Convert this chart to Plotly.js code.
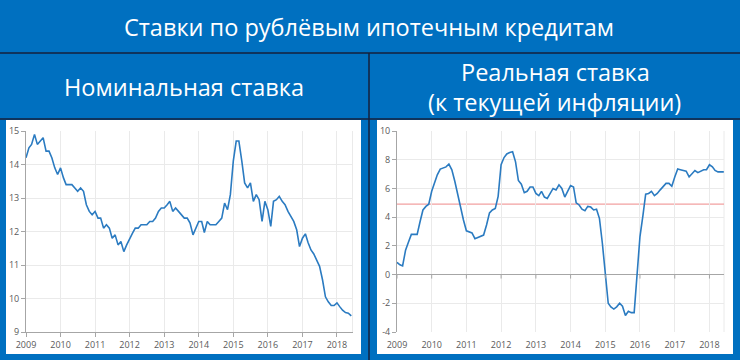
<!DOCTYPE html>
<html>
<head>
<meta charset="utf-8">
<script src="https://cdn.plot.ly/plotly-3.0.1.min.js"></script>
<style>
  html, body { margin: 0; padding: 0; background: #0070C0; }
  #chart { width: 740px; height: 360px; }
</style>
</head>
<body>
<div id="chart"></div>
<script>
// ---- data (monthly, Jan 2009 .. Jun 2018) ----
const years = [2009, 2010, 2011, 2012, 2013, 2014, 2015, 2016, 2017, 2018];
const yearLabels = ["2009", "2010", "2011", "2012", "2013", "2014", "2015", "2016", "2017", "2018"];

const nominalRate = [
  14.2, 14.5, 14.6, 14.9, 14.6, 14.7, 14.8, 14.4, 14.4, 14.2, 13.9, 13.7,
  13.9, 13.6, 13.4, 13.4, 13.4, 13.3, 13.2, 13.3, 13.2, 12.8, 12.6, 12.5,
  12.6, 12.4, 12.4, 12.1, 12.2, 12.1, 11.8, 11.9, 11.6, 11.7, 11.4, 11.6,
  11.8, 11.95, 12.1, 12.1, 12.2, 12.2, 12.2, 12.3, 12.3, 12.4, 12.6, 12.7,
  12.7, 12.8, 12.9, 12.6, 12.7, 12.6, 12.5, 12.4, 12.4, 12.25, 11.9, 12.1,
  12.3, 12.3, 11.97, 12.3, 12.2, 12.2, 12.2, 12.3, 12.4, 12.85, 12.65, 13.1,
  14.1, 14.7, 14.7, 14.1, 13.45, 13.3, 13.45, 12.9, 13.1, 12.95, 12.3, 12.9,
  12.65, 12.15, 12.9, 12.95, 13.05, 12.9, 12.8, 12.6, 12.45, 12.3, 12.05, 11.55,
  11.8, 11.93, 11.67, 11.45, 11.33, 11.15, 10.96, 10.56, 10.05, 9.9, 9.79, 9.79,
  9.87, 9.75, 9.65, 9.58, 9.56, 9.48
];

const realRate = [
  0.85, 0.68, 0.6, 1.7, 2.25, 2.8, 2.8, 2.8, 3.7, 4.5, 4.75, 4.9,
  5.8, 6.5, 6.95, 7.35, 7.4, 7.5, 7.7, 7.3, 6.5, 5.55, 4.75, 3.8,
  3.05, 2.95, 2.9, 2.5, 2.6, 2.7, 2.75, 3.45, 4.3, 4.5, 4.6, 5.45,
  7.65, 8.15, 8.4, 8.5, 8.55, 7.85, 6.55, 6.3, 5.7, 5.8, 6.1, 6.1,
  5.65, 5.5, 5.8, 5.4, 5.3, 5.65, 6.0, 5.9, 6.25, 6.0, 5.4, 5.8,
  6.2, 6.1, 5.0, 4.85, 4.55, 4.45, 4.75, 4.7, 4.5, 4.55, 3.9, 2.2,
  0.0, -2.0, -2.25, -2.4, -2.25, -2.0, -2.2, -2.85, -2.55, -2.65, -2.65, 0.1,
  2.65, 4.1, 5.6, 5.65, 5.8, 5.5, 5.65, 5.9, 6.15, 6.35, 6.35, 6.15,
  6.8, 7.35, 7.3, 7.25, 7.2, 6.8, 7.05, 7.25, 7.1, 7.2, 7.3, 7.3,
  7.65, 7.5, 7.25, 7.15, 7.15, 7.15
];

const realThreshold = 4.9;

const nominalTicks = [9, 10, 11, 12, 13, 14, 15];
const realTicks = [-4, -2, 0, 2, 4, 6, 8, 10];
const realTickLabels = ["-4", "-2", "0", "2", "4", "6", "8", "10"];

const mainTitle = "Ставки по рублёвым ипотечным кредитам";
const leftTitle = "Номинальная ставка";
const rightTitle1 = "Реальная ставка";
const rightTitle2 = "(к текущей инфляции)";

// month dates
const months = nominalRate.map((_, i) => {
  const y = 2009 + Math.floor(i / 12);
  const m = (i % 12) + 1;
  return y + "-" + (m < 10 ? "0" + m : m) + "-01";
});
const yearDates = years.map(y => y + "-01-01");

// ---- layout helpers (pixel -> paper) ----
const W = 740, H = 360;
const X = px => px / W;
const Y = py => 1 - py / H;

const lineColor = "#2B7BC1";
const gridColor = "#EAEAEA";
const axisColor = "#A6A6A6";
const tickFont = { family: "Open Sans, sans-serif", size: 9, color: "#595959" };
const headFont = { family: "Open Sans, sans-serif", size: 23.5, color: "#FFFFFF" };

const traces = [
  { x: months, y: nominalRate, xaxis: "x", yaxis: "y", type: "scatter", mode: "lines",
    line: { color: lineColor, width: 1.6 }, hoverinfo: "skip", showlegend: false },
  { x: months, y: realRate, xaxis: "x2", yaxis: "y2", type: "scatter", mode: "lines",
    line: { color: lineColor, width: 1.6 }, hoverinfo: "skip", showlegend: false }
];

const darkLine = { color: "#14213D", width: 1.5 };

const shapes = [
  { type: "rect", xref: "paper", yref: "paper", x0: X(6), x1: X(361), y0: Y(354), y1: Y(120),
    fillcolor: "#FFFFFF", line: { width: 0 }, layer: "below" },
  { type: "rect", xref: "paper", yref: "paper", x0: X(377), x1: X(733), y0: Y(354), y1: Y(120),
    fillcolor: "#FFFFFF", line: { width: 0 }, layer: "below" },
  { type: "line", xref: "paper", yref: "paper", x0: 0, x1: 1, y0: Y(53), y1: Y(53), line: darkLine },
  { type: "line", xref: "paper", yref: "paper", x0: 0, x1: 1, y0: Y(119), y1: Y(119), line: darkLine },
  { type: "line", xref: "paper", yref: "paper", x0: X(369), x1: X(369), y0: 0, y1: Y(53), line: darkLine },
  // right plot-area borders
  { type: "line", xref: "x domain", yref: "y domain", x0: 1, x1: 1, y0: 0, y1: 1,
    line: { color: gridColor, width: 1 }, layer: "below" },
  { type: "line", xref: "x2 domain", yref: "y2 domain", x0: 1, x1: 1, y0: 0, y1: 1,
    line: { color: gridColor, width: 1 }, layer: "below" },
  // threshold line
  { type: "line", xref: "x2 domain", yref: "y2", x0: 0, x1: 1, y0: realThreshold, y1: realThreshold,
    line: { color: "#F2A0A0", width: 1.2 }, layer: "below" }
];
// tick marks on the zero line of the real-rate chart
yearDates.forEach(d => {
  shapes.push({ type: "line", xref: "x2", yref: "y2", ysizemode: "pixel", yanchor: 0,
    x0: d, x1: d, y0: 0, y1: -4, line: { color: axisColor, width: 1 } });
});

const annotations = [
  { text: mainTitle, xref: "paper", yref: "paper", x: X(369), y: Y(27), showarrow: false,
    xanchor: "center", yanchor: "middle", font: headFont },
  { text: leftTitle, xref: "paper", yref: "paper", x: X(184), y: Y(87), showarrow: false,
    xanchor: "center", yanchor: "middle", font: headFont },
  { text: rightTitle1, xref: "paper", yref: "paper", x: X(555), y: Y(72), showarrow: false,
    xanchor: "center", yanchor: "middle", font: headFont },
  { text: rightTitle2, xref: "paper", yref: "paper", x: X(554), y: Y(102), showarrow: false,
    xanchor: "center", yanchor: "middle", font: headFont }
];

const layout = {
  width: W, height: H, autosize: false,
  margin: { l: 0, r: 0, t: 0, b: 0, pad: 0 },
  paper_bgcolor: "#0070C0",
  plot_bgcolor: "rgba(0,0,0,0)",
  showlegend: false,
  xaxis: {
    type: "date", domain: [X(26), X(352.5)], anchor: "y",
    range: ["2009-01-01", "2018-06-14"],
    tickvals: yearDates, ticktext: yearLabels,
    showgrid: true, gridcolor: gridColor, gridwidth: 1,
    showline: true, linecolor: axisColor, linewidth: 1,
    ticks: "outside", ticklen: 4, tickcolor: axisColor,
    tickfont: tickFont, zeroline: false, fixedrange: true
  },
  yaxis: {
    domain: [Y(332), Y(131)], anchor: "x",
    range: [9, 15], tickvals: nominalTicks,
    showgrid: true, gridcolor: gridColor, gridwidth: 1,
    showline: true, linecolor: axisColor, linewidth: 1,
    ticks: "outside", ticklen: 4, tickcolor: axisColor,
    tickfont: tickFont, zeroline: false, fixedrange: true
  },
  xaxis2: {
    type: "date", domain: [X(397), X(724)], anchor: "y2",
    range: ["2009-01-01", "2018-06-03"],
    tickvals: yearDates, ticktext: yearLabels,
    showgrid: true, gridcolor: gridColor, gridwidth: 1,
    showline: false, ticks: "", ticklabelstandoff: 6,
    tickfont: tickFont, zeroline: false, fixedrange: true
  },
  yaxis2: {
    domain: [Y(332), Y(131)], anchor: "x2",
    range: [-4, 10], tickvals: realTicks, ticktext: realTickLabels,
    showgrid: true, gridcolor: gridColor, gridwidth: 1,
    showline: true, linecolor: axisColor, linewidth: 1,
    ticks: "outside", ticklen: 4, tickcolor: axisColor,
    tickfont: tickFont,
    zeroline: true, zerolinecolor: axisColor, zerolinewidth: 1, fixedrange: true
  },
  shapes: shapes,
  annotations: annotations
};

Plotly.newPlot("chart", traces, layout, { staticPlot: true, displayModeBar: false });
</script>
</body>
</html>
